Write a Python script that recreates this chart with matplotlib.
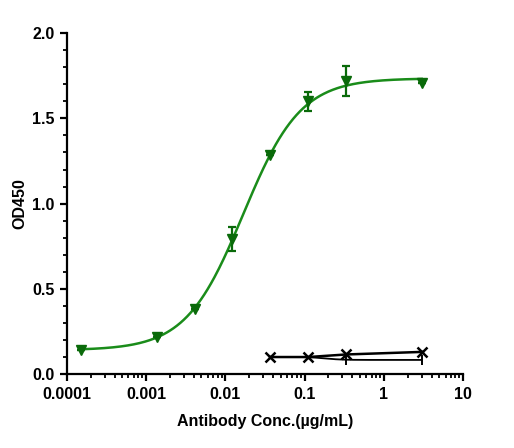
import numpy as np
import matplotlib
matplotlib.use("Agg")
import matplotlib.pyplot as plt
from matplotlib.ticker import LogLocator, MultipleLocator, FixedLocator, NullFormatter

plt.rcParams['font.family'] = ['Liberation Sans', 'DejaVu Sans']
plt.rcParams['font.weight'] = 'bold'

# Target antibody data
conc = [0.000152, 0.00137, 0.00412, 0.0123, 0.037, 0.111, 0.333, 3.0]
od = [0.14, 0.22, 0.38, 0.79, 1.285, 1.60, 1.72, 1.71]
od_err = [0.0, 0.0, 0.0, 0.07, 0.0, 0.055, 0.09, 0.0]
# 4PL fit parameters (bottom, top, EC50, Hill)
fit_bottom, fit_top, fit_ec50, fit_hill = 0.14, 1.735, 0.0168, 1.2

# Control data
ctrl_conc = [0.037, 0.111, 0.333, 3.0]
ctrl_od = [0.10, 0.10, 0.115, 0.13]
ctrl_fit_bottom, ctrl_fit_top, ctrl_fit_ec50, ctrl_fit_hill = 0.101, 0.083, 0.18, 4.0

def fourpl(x, b, t, ec, h):
    return b + (t - b) / (1 + (ec / x) ** h)

fig = plt.figure(figsize=(5.14, 4.48), dpi=100)
ax = fig.add_axes([0.130, 0.165, 0.771, 0.761])

green_line = '#1a8c1a'
green_mark = '#0a6a0a'

xs = np.logspace(np.log10(conc[0]), np.log10(conc[-1]), 300)
ax.plot(xs, fourpl(xs, fit_bottom, fit_top, fit_ec50, fit_hill), color=green_line, lw=1.8, zorder=2)
ax.errorbar(conc, od, yerr=od_err, fmt='v', color=green_mark, ms=7,
            ecolor=green_mark, elinewidth=1.6, capsize=3, capthick=1.6, zorder=3)

xc = np.logspace(np.log10(ctrl_conc[0]), np.log10(ctrl_conc[-1]), 200)
ax.plot(xc, fourpl(xc, ctrl_fit_bottom, ctrl_fit_top, ctrl_fit_ec50, ctrl_fit_hill), color='black', lw=1.3, zorder=2)
ctrl_fit_pts = fourpl(np.array(ctrl_conc[2:]), ctrl_fit_bottom, ctrl_fit_top, ctrl_fit_ec50, ctrl_fit_hill)
ax.plot(ctrl_conc[2:], ctrl_fit_pts, ls='none', marker='|', ms=7, mew=1.4, color='black')
ax.plot(ctrl_conc, ctrl_od, color='black', lw=1.8, marker='x', ms=6.5, mew=1.8, zorder=3)

ax.set_xscale('log')
ax.set_xlim(1e-4, 10)
ax.set_ylim(0, 2.0)
ax.yaxis.set_major_locator(FixedLocator([0, 0.5, 1.0, 1.5, 2.0]))
ax.yaxis.set_minor_locator(MultipleLocator(0.1))
ax.set_yticklabels(['0.0', '0.5', '1.0', '1.5', '2.0'])
ax.xaxis.set_major_locator(FixedLocator([1e-4, 1e-3, 1e-2, 1e-1, 1, 10]))
ax.set_xticklabels(['0.0001', '0.001', '0.01', '0.1', '1', '10'])
ax.xaxis.set_minor_locator(LogLocator(base=10, subs=np.arange(2, 10), numticks=20))
ax.xaxis.set_minor_formatter(NullFormatter())

for s in ['top', 'right']:
    ax.spines[s].set_visible(False)
for s in ['left', 'bottom']:
    ax.spines[s].set_linewidth(1.6)
ax.tick_params(which='major', direction='out', length=5, width=1.6, labelsize=11.5, pad=4)
ax.tick_params(which='minor', direction='out', length=3, width=1.3)
for lab in ax.get_xticklabels() + ax.get_yticklabels():
    lab.set_fontweight('bold')

ax.set_xlabel('Antibody Conc.(µg/mL)', fontsize=11.5, fontweight='bold', labelpad=9)
ax.set_ylabel('OD450', fontsize=11.5, fontweight='bold', labelpad=3)

fig.savefig('out.png', dpi=100)
